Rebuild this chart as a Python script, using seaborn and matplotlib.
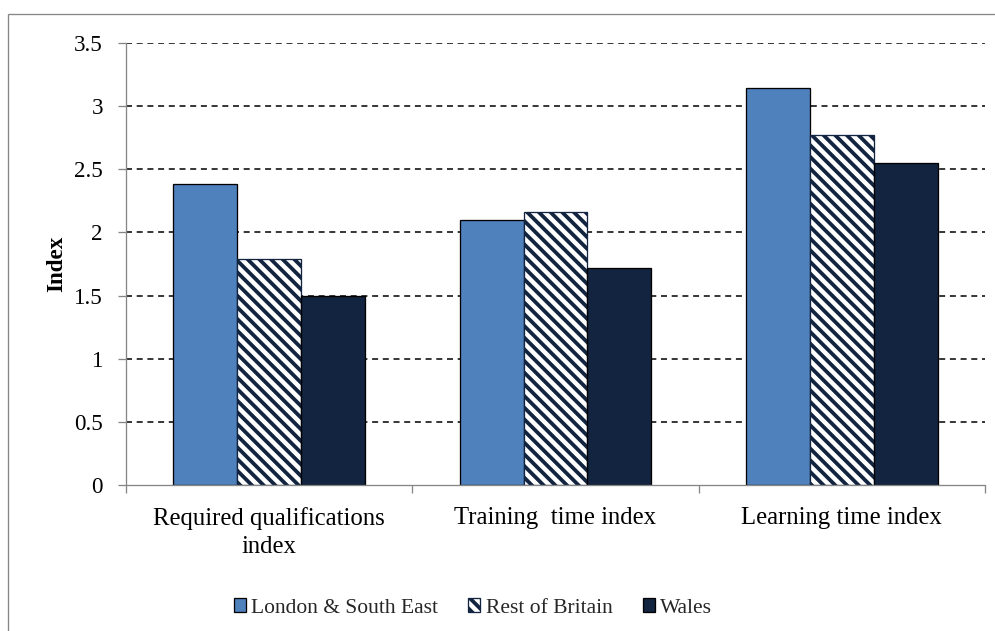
import matplotlib
matplotlib.use('Agg')
import matplotlib.pyplot as plt
import seaborn as sns
import pandas as pd
from matplotlib.patches import Rectangle

# ---- data ----
categories = ["Required qualifications\nindex", "Training  time index", "Learning time index"]
series = ["London & South East", "Rest of Britain", "Wales"]
london = [2.38, 2.10, 3.14]
rest = [1.79, 2.16, 2.77]
wales = [1.50, 1.72, 2.55]
yticks = [0, 0.5, 1, 1.5, 2, 2.5, 3, 3.5]
ytick_labels = ["0", "0.5", "1", "1.5", "2", "2.5", "3", "3.5"]

DPI = 70
W, H = 995, 631


def pt(px):
    return px * 72.0 / DPI


sns.set_theme(style='white')
plt.rcParams['font.family'] = ['Liberation Serif', 'DejaVu Serif']
plt.rcParams['hatch.linewidth'] = pt(3.8)
plt.rcParams['lines.scale_dashes'] = False

df = pd.DataFrame({
    'category': categories * 3,
    'region': [s for s in series for _ in categories],
    'value': london + rest + wales,
})

fig = plt.figure(figsize=(W / DPI, H / DPI), dpi=DPI)
fig.patch.set_facecolor('white')
ax = fig.add_axes([126 / W, 1 - 485 / H, (985 - 126) / W, (485 - 43) / H])

palette = {"London & South East": "#4F81BD", "Rest of Britain": "white", "Wales": "#12243F"}
sns.barplot(data=df, x='category', y='value', hue='region', hue_order=series,
            order=categories, palette=palette, width=0.67, edgecolor='black',
            linewidth=pt(1.3), saturation=1, legend=False, ax=ax)

navy = '#12243F'
for bar in ax.containers[1].patches:
    bar.set_facecolor('white')
    bar.set_edgecolor(navy)
    bar.set_hatch('\\\\')

# axes styling
ax.set_xlim(-0.5, 2.5)
ax.set_ylim(0, 3.5)
ax.set_yticks(yticks)
ax.set_yticklabels(ytick_labels)
ax.set_xticks([-0.5, 0.5, 1.5, 2.5])
ax.set_xticklabels([])
ax.set_xticks([0, 1, 2], minor=True)
ax.set_xticklabels(categories, minor=True, linespacing=1.36)

grey = '#868686'
for side in ['top', 'right']:
    ax.spines[side].set_visible(False)
for side in ['left', 'bottom']:
    ax.spines[side].set_color(grey)
    ax.spines[side].set_linewidth(pt(1.3))

ax.tick_params(axis='y', which='major', left=True, direction='out', length=pt(8),
               width=pt(1.3), color=grey, pad=pt(15), labelsize=pt(23), labelcolor='black')
ax.tick_params(axis='x', which='major', bottom=True, direction='out', length=pt(8),
               width=pt(1.3), color=grey)
ax.tick_params(axis='x', which='minor', bottom=True, length=0, pad=pt(22),
               labelsize=pt(24.8), labelcolor='black')

ax.set_axisbelow(True)
ax.yaxis.grid(True, linestyle=(0, (pt(6), pt(4.7))), color='#1a1a1a', linewidth=pt(1.7))
ax.xaxis.grid(False)
ax.yaxis.get_major_ticks()[0].gridline.set_visible(False)

ax.set_xlabel('')
ax.set_ylabel('Index', fontsize=pt(23), fontweight='bold', color='black')
ax.yaxis.set_label_coords((67 - 126) / (985 - 126), 0.50)

# legend
handles = [c.patches[0] for c in ax.containers]
fig.legend(handles, series, loc='center', bbox_to_anchor=(473 / W, 1 - 608 / H),
           ncol=3, frameon=False, fontsize=pt(21.5), handlelength=0.56,
           handleheight=0.56, handletextpad=0.25, columnspacing=1.4, borderaxespad=0)

# outer chart border (left and top visible)
fig.add_artist(Rectangle((8 / W, -0.5), 2, 0.5 + (1 - 14 / H), transform=fig.transFigure,
                         fill=False, edgecolor=grey, linewidth=pt(1.3)))

fig.savefig('out.png', dpi=DPI, facecolor='white')
